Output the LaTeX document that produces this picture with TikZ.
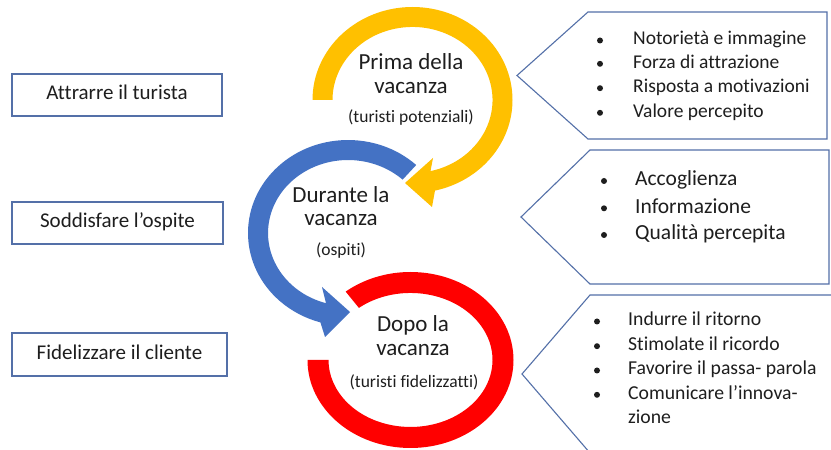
\documentclass[tikz,border=0pt]{standalone}
\usepackage{fontspec}
\setmainfont{Carlito}[Ligatures=NoCommon]
\definecolor{cyel}{HTML}{FFC000}
\definecolor{cblu}{HTML}{4472C4}
\definecolor{cred}{HTML}{FF0000}
\definecolor{cline}{RGB}{84,112,168}
\definecolor{ctext}{RGB}{30,30,30}
\newcommand\fsLeft{\fontsize{21}{25}\selectfont}
\newcommand\fsBig{\fontsize{23}{27}\selectfont}
\newcommand\fsSmall{\fontsize{17.5}{21}\selectfont}
\newcommand\fsRone{\fontsize{19.5}{23}\selectfont}
\newcommand\fsRtwo{\fontsize{21.5}{25}\selectfont}
\newcommand\fsRthree{\fontsize{19.7}{23}\selectfont}
\begin{document}
\begin{tikzpicture}[x=1pt,y=1pt,
  lbox/.style={draw=cline, line width=1.1pt, minimum width=#1, minimum height=42pt,
    inner sep=0pt, text=ctext, font=\fsLeft, text height=14pt, text depth=4pt},
  pent/.style={draw=cline, line width=1.1pt},
  ctxt/.style={anchor=base, inner sep=0pt, text=ctext},
  rtxt/.style={anchor=base west, inner sep=0pt, text=ctext},
  bul/.style={circle, fill=ctext, inner sep=0pt, minimum size=6pt}
]
\useasboundingbox (0,0) rectangle (831,450);
\clip (0,0) rectangle (831,450);
\fill[white] (0,0) rectangle (831,450);

% ---------- left boxes ----------
\node[lbox=210pt] (attr) at (117,355) {Attrarre il turista};
\node[lbox=211pt] (sodd) at (117.5,227) {Soddisfare l’ospite};
\node[lbox=215pt, minimum height=43pt] (fide) at (119.5,95.5) {Fidelizzare il cliente};

% ---------- right pentagons ----------
\draw[pent] (588,438) -- (827,438) -- (827,311) -- (588,311) -- (517,374.5) -- cycle;
\draw[pent] (590,300) -- (829,300) -- (829,166) -- (590,166) -- (521,233) -- cycle;
\draw[pent] (845,155) -- (590,155) -- (522,76) -- (590,-3) -- (845,-3);

% ---------- yellow circular arrow ----------
\fill[cyel] (312.5,350) arc[start angle=180, end angle=-77, x radius=100, y radius=93]
  -- (432,243) -- (405,267) -- (433,292) -- (430.5,278.9)
  arc[start angle=-77, end angle=180, x radius=80, y radius=73] -- cycle;

% ---------- blue circular arrow ----------
\fill[cblu] (416.2,285.0) arc[start angle=47, end angle=254, x radius=100, y radius=93]
  -- (325,113) -- (350,138) -- (322,163) -- (326,146.8)
  arc[start angle=254, end angle=47, x radius=80, y radius=73] -- cycle;

% ---------- red ring ----------
\fill[cred] (307.5,90) arc[start angle=180, end angle=489, x radius=103, y radius=88]
  -- (358.9,142.1)
  arc[start angle=489, end angle=180, x radius=82, y radius=67] -- cycle;

% ---------- circle texts ----------
\node[ctxt, font=\fsBig] (y1) at (411,380) {Prima della};
\node[ctxt, font=\fsBig] (y2) at (411,356) {vacanza};
\node[ctxt, font=\fsSmall] (y3) at (411,327) {(turisti potenziali)};

\node[ctxt, font=\fsBig] (b1) at (341,247) {Durante la};
\node[ctxt, font=\fsBig] (b2) at (341,224) {vacanza};
\node[ctxt, font=\fsSmall] (b3) at (341,194) {(ospiti)};

\node[ctxt, font=\fsBig] (r1) at (413,118) {Dopo la};
\node[ctxt, font=\fsBig] (r2) at (413,94) {vacanza};
\node[ctxt, font=\fsSmall] (r3) at (414,62) {(turisti fidelizzatti)};

% ---------- right texts: box 1 ----------
\node[bul] (p1a) at (600,409.5) {};
\node[bul] (p1b) at (600,386.2) {};
\node[bul] (p1c) at (600,361.8) {};
\node[bul] (p1d) at (600,337.2) {};
\node[rtxt, font=\fsRone] (t1a) at (633,405) {Notorietà e immagine};
\node[rtxt, font=\fsRone] (t1b) at (633,381.7) {Forza di attrazione};
\node[rtxt, font=\fsRone] (t1c) at (633,357.3) {Risposta a motivazioni};
\node[rtxt, font=\fsRone] (t1d) at (633,332.7) {Valore percepito};

% ---------- right texts: box 2 ----------
\node[bul] (p2a) at (604,269) {};
\node[bul] (p2b) at (604,241.7) {};
\node[bul] (p2c) at (604,215) {};
\node[rtxt, font=\fsRtwo] (t2a) at (635,264) {Accoglienza};
\node[rtxt, font=\fsRtwo] (t2b) at (635,236.7) {Informazione};
\node[rtxt, font=\fsRtwo] (t2c) at (635,210) {Qualità percepita};

% ---------- right texts: box 3 ----------
\node[bul] (p3a) at (597,128.5) {};
\node[bul] (p3b) at (597,103.8) {};
\node[bul] (p3c) at (597,79.5) {};
\node[bul] (p3d) at (597,55.2) {};
\node[rtxt, font=\fsRthree] (t3a) at (628,124) {Indurre il ritorno};
\node[rtxt, font=\fsRthree] (t3b) at (628,99.3) {Stimolate il ricordo};
\node[rtxt, font=\fsRthree] (t3c) at (628,75) {Favorire il passa- parola};
\node[rtxt, font=\fsRthree] (t3d) at (628,50.7) {Comunicare l’innova-};
\node[rtxt, font=\fsRthree] (t3e) at (628,26.7) {zione};
\end{tikzpicture}
\end{document}
